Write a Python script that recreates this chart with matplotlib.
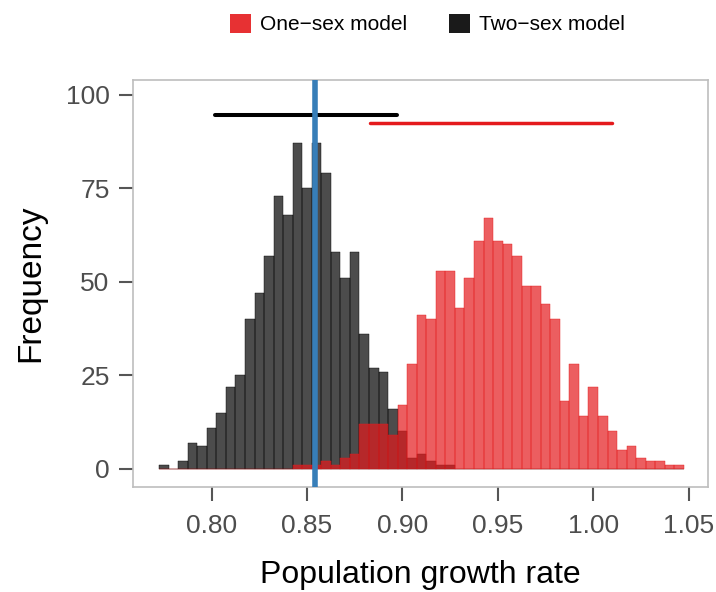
import matplotlib.pyplot as plt
import numpy as np
from matplotlib.patches import Patch

plt.rcParams['font.family'] = ['Liberation Sans', 'DejaVu Sans']

# histogram bins (width 0.005, first bin centred at 0.775)
bin_start = 0.775
bin_width = 0.005
two_sex_counts = [1, 0, 2, 7, 6, 11, 15, 22, 25, 40, 47, 57, 73, 68, 87, 75, 87, 79, 58, 51,
                  58, 36, 27, 26, 16, 10, 3, 4, 2, 1, 1] + [0] * 24
one_sex_counts = [0] * 14 + [1, 1, 1, 2, 1, 3, 4, 12, 12, 12, 9, 17, 28, 41, 40, 53, 53, 43, 51, 61,
                             67, 61, 60, 57, 49, 49, 44, 40, 18, 28, 14, 22, 14, 10, 5, 6, 3, 2, 2, 1, 1]
# 95% intervals drawn as horizontal segments
two_sex_ci = (0.802, 0.897)
two_sex_ci_y = 94.5
one_sex_ci = (0.883, 1.010)
one_sex_ci_y = 92.4
observed_rate = 0.854

labels = ['One\u2212sex model', 'Two\u2212sex model']
red = '#E41A1C'
black = '#000000'

centers = bin_start + bin_width * np.arange(len(two_sex_counts))

fig = plt.figure(figsize=(7.16, 5.92), dpi=100)
ax = fig.add_axes([0.186, 0.177, 0.803, 0.688])

ax.bar(centers, two_sex_counts, width=bin_width, color=(0, 0, 0, 0.7),
       edgecolor=black, linewidth=0.3, zorder=2)
ax.bar(centers, one_sex_counts, width=bin_width, color=(228/255, 26/255, 28/255, 0.7),
       edgecolor=red, linewidth=0.3, zorder=3)

ax.plot(two_sex_ci, [two_sex_ci_y] * 2, color=black, linewidth=2.9,
        solid_capstyle='round', zorder=4)
ax.plot(one_sex_ci, [one_sex_ci_y] * 2, color=red, linewidth=2.5,
        solid_capstyle='round', zorder=4)
ax.axvline(observed_rate, color='#377EB8', linewidth=4, zorder=5)

ax.set_xlim(0.7589, 1.0602)
ax.set_ylim(-4.93, 104.0)
ax.set_xticks([0.80, 0.85, 0.90, 0.95, 1.00, 1.05])
ax.set_xticklabels(['0.80', '0.85', '0.90', '0.95', '1.00', '1.05'])
ax.set_yticks([0, 25, 50, 75, 100])

ax.tick_params(axis='both', colors='#555555', labelcolor='#4D4D4D', labelsize=19,
               length=10, width=1.5, direction='out')
ax.tick_params(axis='x', pad=9)
ax.tick_params(axis='y', pad=7)
for s in ax.spines.values():
    s.set_color('#BEBEBE')
    s.set_linewidth(1.2)

ax.set_xlabel('Population growth rate', fontsize=23, labelpad=16)
ax.set_ylabel('Frequency', fontsize=24, labelpad=14)

handles = [Patch(facecolor='#E73133', label=labels[0]),
           Patch(facecolor='#1A1A1A', label=labels[1])]
fig.legend(handles=handles, loc='upper center', bbox_to_anchor=(0.597, 1.008), ncol=2,
           frameon=False, fontsize=15, handlelength=1.0, handleheight=1.0,
           handletextpad=0.45, columnspacing=2.0)

fig.savefig('out.png', dpi=100, facecolor='white')
